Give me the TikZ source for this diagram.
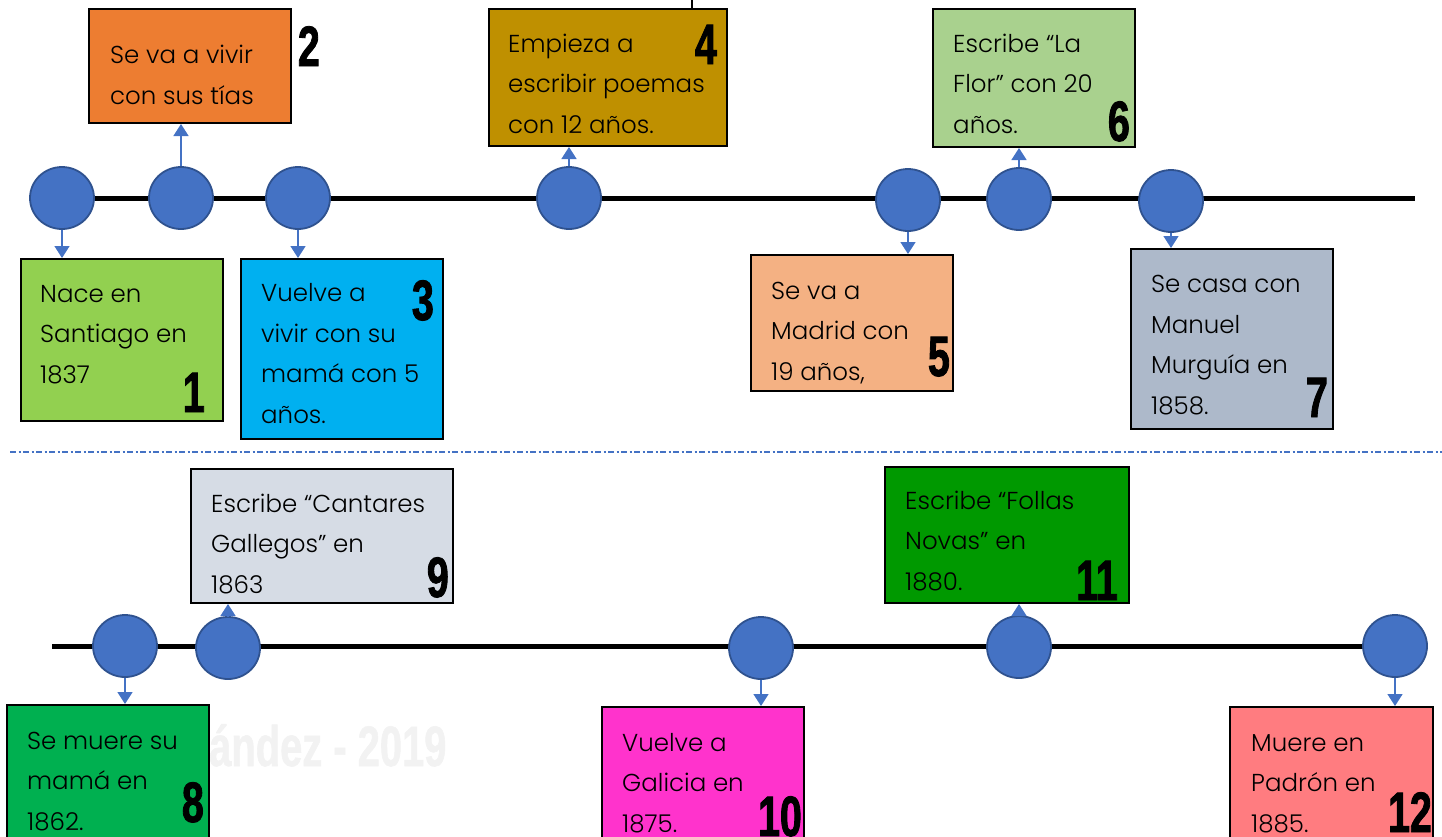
\documentclass[tikz,border=0pt]{standalone}
\usepackage{fontspec}
\setmainfont{Poppins Light}
\newfontfamily\numfont{Liberation Sans}[FakeStretch=0.69,FakeBold=1.5]
\newfontfamily\wmfont{Liberation Sans}[FakeStretch=0.70,FakeBold=1]
\usetikzlibrary{shapes.geometric,arrows.meta}
\definecolor{cA}{HTML}{92D050}
\definecolor{cB}{HTML}{ED7D31}
\definecolor{cC}{HTML}{00B0F0}
\definecolor{cD}{HTML}{BF9000}
\definecolor{cE}{HTML}{F4B183}
\definecolor{cF}{HTML}{A9D18E}
\definecolor{cG}{HTML}{ADB9CA}
\definecolor{cH}{HTML}{00B050}
\definecolor{cI}{HTML}{D6DCE5}
\definecolor{cJ}{HTML}{FF33CC}
\definecolor{cK}{HTML}{009900}
\definecolor{cL}{HTML}{FF7C80}
\definecolor{dotfill}{HTML}{4472C4}
\definecolor{dotedge}{HTML}{2F528F}
\definecolor{wm}{HTML}{F2F2F2}
\tikzset{
  ebox/.style={draw=black, line width=2pt, anchor=north west, minimum width=202pt, inner sep=0pt},
  dotnode/.style={ellipse, draw=dotedge, fill=dotfill, line width=1.8pt, minimum width=64pt, minimum height=62pt, inner sep=0pt},
  tline/.style={line width=5pt, black},
  conn/.style={draw=dotfill, line width=1.5pt, -{Triangle[length=12pt,width=15pt]}},
  btext/.style={anchor=base west, align=left, inner sep=0pt, font=\fontsize{24.5}{40.5}\selectfont},
  bnum/.style={anchor=base east, inner sep=0pt, font=\numfont\bfseries\fontsize{57}{57}\selectfont},
}
\begin{document}
\begin{tikzpicture}[x=1pt,y=-1pt]
\useasboundingbox (0,0) rectangle (1442,836);
% watermark
\node[anchor=base west, inner sep=0pt, text=wm, font=\wmfont\bfseries\fontsize{57}{57}\selectfont] (wmk) at (209,766) {ández - 2019};
% timelines
\coordinate (ts) at (62,198);
\coordinate (te) at (1415,198);
\draw[tline] (ts) -- (te);
\coordinate (bs) at (52,646);
\coordinate (be) at (1395,646);
\draw[tline] (bs) -- (be);
% separator
\coordinate (ss) at (10,452);
\coordinate (se) at (1442,452);
\draw[dotfill, line width=1.5pt, dash pattern=on 6pt off 2.5pt on 2pt off 2.5pt] (ss) -- (se);
% dots
\node[dotnode] (d1) at (62,198) {};
\node[dotnode] (d2) at (181,198) {};
\node[dotnode] (d3) at (298,198) {};
\node[dotnode] (d4) at (569,198) {};
\node[dotnode] (d5) at (908,200) {};
\node[dotnode] (d6) at (1019,199) {};
\node[dotnode] (d7) at (1171,201) {};
\node[dotnode] (d8) at (125,646) {};
\node[dotnode] (d9) at (228,648) {};
\node[dotnode] (d10) at (761,648) {};
\node[dotnode] (d11) at (1019,647) {};
\node[dotnode] (d12) at (1395,646) {};
% boxes
\node[ebox, fill=cA, minimum height=162pt] (b1) at (20,258) {};
\node[ebox, fill=cB, minimum height=114pt] (b2) at (88,8) {};
\node[ebox, fill=cC, minimum height=180pt] (b3) at (240,258) {};
\node[ebox, fill=cD, minimum height=137pt, minimum width=238pt] (b4) at (488,8) {};
\node[ebox, fill=cE, minimum height=136pt] (b5) at (750,254) {};
\node[ebox, fill=cF, minimum height=138pt] (b6) at (932,8) {};
\node[ebox, fill=cG, minimum height=180pt] (b7) at (1130,248) {};
\node[ebox, fill=cH, minimum height=150pt] (b8) at (6,704) {};
\node[ebox, fill=cI, minimum height=134pt, minimum width=262pt] (b9) at (190,468) {};
\node[ebox, fill=cJ, minimum height=150pt] (b10) at (601,706) {};
\node[ebox, fill=cK, minimum height=136pt, minimum width=244pt] (b11) at (884,466) {};
\node[ebox, fill=cL, minimum height=150pt, minimum width=203pt] (b12) at (1229,706) {};
% link to top
\coordinate (topend) at (692,0);
\draw[black, line width=2pt] (topend) -- (topend |- b4.north);
% connectors
\draw[conn] (d1.south) -- (d1.south |- b1.north);
\draw[conn] (d2.north) -- (d2.north |- b2.south);
\draw[conn] (d3.south) -- (d3.south |- b3.north);
\draw[conn] (d4.north) -- (d4.north |- b4.south);
\draw[conn] (d5.south) -- (d5.south |- b5.north);
\draw[conn] (d6.north) -- (d6.north |- b6.south);
\draw[conn] (d7.south) -- (d7.south |- b7.north);
\draw[conn] (d8.south) -- (d8.south |- b8.north);
\draw[conn] (d9.north) -- (d9.north |- b9.south);
\draw[conn] (d10.south) -- (d10.south |- b10.north);
\draw[conn] (d11.north) -- (d11.north |- b11.south);
\draw[conn] (d12.south) -- (d12.south |- b12.north);
% texts (anchor = baseline of last line)
\node[btext] (t1) at (40,383) {Nace en\\Santiago en\\1837};
\node[btext] (t2) at (110,104) {Se va a vivir\\con sus tías};
\node[btext] (t3) at (261,423) {Vuelve a\\vivir con su\\mamá con 5\\años.};
\node[btext] (t4) at (508,133) {Empieza a\\escribir poemas\\con 12 años.};
\node[btext] (t5) at (771,380) {Se va a\\Madrid con\\19 años,};
\node[btext] (t6) at (953,133) {Escribe “La\\Flor” con 20\\años.};
\node[btext] (t7) at (1151,414) {Se casa con\\Manuel\\Murguía en\\1858.};
\node[btext] (t8) at (27,830) {Se muere su\\mamá en\\1862.};
\node[btext] (t9) at (211,593) {Escribe “Cantares\\Gallegos” en\\1863};
\node[btext] (t10) at (622,832) {Vuelve a\\Galicia en\\1875.};
\node[btext] (t11) at (905,590) {Escribe “Follas\\Novas” en\\1880.};
\node[btext] (t12) at (1251,832) {Muere en\\Padrón en\\1885.};
% numbers
\node[bnum] (n1) at (205,412) {1};
\node[bnum] (n2) at (320,66) {2};
\node[bnum] (n3) at (434,320) {3};
\node[bnum] (n4) at (717,64) {4};
\node[bnum] (n5) at (950,376) {5};
\node[bnum] (n6) at (1130,141) {6};
\node[bnum] (n7) at (1328,417) {7};
\node[bnum] (n8) at (204,822) {8};
\node[bnum] (n9) at (449,597) {9};
\node[bnum] (n10) at (802,836) {10};
\node[bnum] (n11) at (1118,600) {11};
\node[bnum] (n12) at (1432,832) {12};
\end{tikzpicture}
\end{document}
